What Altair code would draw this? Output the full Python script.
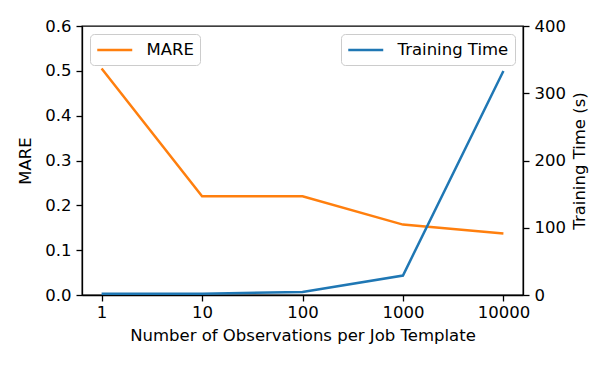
import altair as alt
import pandas as pd

observations = [1, 10, 100, 1000, 10000]
mare = [0.505, 0.220, 0.220, 0.157, 0.137]
training_time = [2, 2, 4.5, 29, 333]

mare_df = pd.DataFrame({"obs": observations, "value": mare, "series": ["MARE"] * 5})
time_df = pd.DataFrame({"obs": observations, "value": training_time, "series": ["Training Time"] * 5})

FONT = "DejaVu Sans"
FS = 16.5

x_enc = alt.X(
    "obs:Q",
    scale=alt.Scale(type="log", domain=[0.638, 15668]),
    axis=alt.Axis(
        values=observations,
        labelExpr="format(datum.value, 'd')",
        title="Number of Observations per Job Template",
        titlePadding=7,
        labelPadding=3,
    ),
)

def legend(orient):
    return alt.Legend(
        orient=orient,
        title=None,
        offset=8,
        padding=6,
        cornerRadius=4,
        fillColor="rgba(255,255,255,0.8)",
        strokeColor="#cccccc",
        symbolType="M-1,0H3",
        symbolStrokeWidth=2.5,
        symbolSize=306,
        labelFontSize=FS,
        labelFont=FONT,
        labelColor="black",
        labelOffset=30.5,
    )

left = alt.Chart(mare_df).mark_line(strokeWidth=2.5).encode(
    x=x_enc,
    y=alt.Y(
        "value:Q",
        scale=alt.Scale(domain=[0, 0.6]),
        axis=alt.Axis(values=[0, 0.1, 0.2, 0.3, 0.4, 0.5, 0.6], format=".1f", title="MARE", titlePadding=11),
    ),
    color=alt.Color("series:N", scale=alt.Scale(domain=["MARE"], range=["#ff7f0e"]), legend=legend("top-left")),
)

right = alt.Chart(time_df).mark_line(strokeWidth=2.5).encode(
    x=x_enc,
    y=alt.Y(
        "value:Q",
        scale=alt.Scale(domain=[0, 400]),
        axis=alt.Axis(orient="right", values=[0, 100, 200, 300, 400], format="d",
                      title="Training Time (s)", titleAngle=270, titleBaseline="top", titlePadding=6),
    ),
    color=alt.Color("series:N", scale=alt.Scale(domain=["Training Time"], range=["#1f77b4"]), legend=legend("top-right")),
)

chart = (
    alt.layer(left, right)
    .resolve_scale(y="independent", color="independent")
    .properties(width=441, height=269, padding={"left": 9, "top": 10, "right": 5, "bottom": 5})
    .configure_view(stroke="black", strokeWidth=1.3)
    .configure_axis(
        grid=False,
        domainColor="black",
        domainWidth=1.3,
        tickColor="black",
        tickWidth=1.3,
        tickSize=6,
        labelPadding=5,
        labelFont=FONT,
        labelFontSize=FS,
        labelColor="black",
        titleFont=FONT,
        titleFontSize=FS,
        titleFontWeight="normal",
        titleColor="black",
    )
)

chart.save("out.html", embed_options={"renderer": "svg", "actions": False})
